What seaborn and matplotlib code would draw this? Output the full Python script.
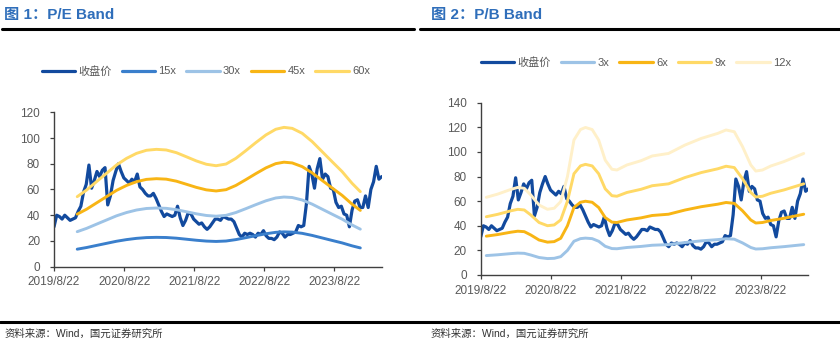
import numpy as np
import pandas as pd
import matplotlib
matplotlib.use("Agg")
import matplotlib.pyplot as plt
import seaborn as sns

# ---- data -------------------------------------------------------------
close_start = "2019-08-22"
# closing price, sampled every two weeks
close = [31, 40, 39, 37, 40, 38, 36, 37, 38, 43,
         47, 58, 64, 79, 61, 67, 74, 70, 75, 77,
         48, 55, 67, 74, 80, 74, 69, 67, 65, 68,
         66, 72, 62, 60, 57, 55, 55, 57, 53, 48,
         43, 39, 41, 40, 39, 40, 47, 38, 32, 36,
         42, 41, 37, 35, 33, 34, 31, 29, 31, 34,
         37, 37, 36, 39, 38, 37, 37, 35, 30, 25,
         23, 26, 25, 26, 25, 23, 26, 25, 28, 24,
         22, 22, 21, 23, 27, 26, 23, 25, 25, 26,
         27, 32, 31, 32, 49, 78, 72, 61, 76, 84,
         68, 72, 70, 61, 60, 50, 46, 47, 41, 40,
         31, 44, 51, 52, 46, 46, 55, 46, 60, 66,
         78, 68, 70]

# earnings per share used for the P/E band
eps_dates = ["2019-12-21", "2020-02-08", "2020-03-31", "2020-05-22", "2020-07-13",
             "2020-09-03", "2020-10-25", "2020-12-16", "2021-02-06", "2021-03-29",
             "2021-05-21", "2021-07-11", "2021-09-02", "2021-10-24", "2021-12-14",
             "2022-02-04", "2022-03-27", "2022-05-18", "2022-07-09", "2022-08-31",
             "2022-10-21", "2022-12-03", "2023-01-15", "2023-03-08", "2023-04-29",
             "2023-06-20", "2023-08-11", "2023-10-02", "2023-11-23", "2024-01-05"]
eps = [0.907, 0.993, 1.102, 1.210, 1.318, 1.403, 1.468, 1.508, 1.520, 1.512,
       1.477, 1.425, 1.370, 1.327, 1.308, 1.330, 1.403, 1.503, 1.607, 1.707,
       1.780, 1.805, 1.792, 1.728, 1.620, 1.490, 1.360, 1.232, 1.080, 0.972]

# book value per share used for the P/B band
bvps_dates = ["2019-09-20", "2019-11-19", "2020-01-27", "2020-03-02", "2020-04-05",
              "2020-05-09", "2020-06-21", "2020-08-04", "2020-09-08", "2020-10-12",
              "2020-11-16", "2020-12-20", "2021-01-23", "2021-02-18", "2021-03-25",
              "2021-04-28", "2021-06-01", "2021-07-06", "2021-08-01", "2021-09-22",
              "2021-12-05", "2022-02-01", "2022-04-27", "2022-07-22", "2022-10-15",
              "2023-01-09", "2023-02-21", "2023-04-05", "2023-05-18", "2023-06-30",
              "2023-07-26", "2023-08-30", "2023-10-12", "2023-12-20", "2024-04-01"]
bvps = [5.26, 5.48, 5.80, 5.93, 5.87, 5.42, 4.74, 4.45, 4.52, 4.97,
        6.66, 9.14, 9.85, 9.99, 9.85, 9.14, 7.78, 7.16, 7.11, 7.45,
        7.74, 8.06, 8.23, 8.80, 9.25, 9.59, 9.82, 9.70, 8.69, 7.45,
        7.04, 7.11, 7.38, 7.68, 8.23]

pe_multiples = [15, 30, 45, 60]
pb_multiples = [3, 6, 9, 12]
pe_colors = ["#3A7FCC", "#9DC3E6", "#F8B515", "#FFD966"]
pb_colors = ["#9DC3E6", "#F8B515", "#FFD966", "#FFF0C9"]
price_label = "收盘价"
price_color = "#124A9E"

tick_dates = ["2019-08-22", "2020-08-22", "2021-08-22", "2022-08-22", "2023-08-22"]
tick_labels = ["2019/8/22", "2020/8/22", "2021/8/22", "2022/8/22", "2023/8/22"]

titles = ["图 1：P/E Band", "图 2：P/B Band"]
source_note = "资料来源：Wind，国元证券研究所"

# ---- style ------------------------------------------------------------
sns.set_style("ticks")
FAMILY = ["Liberation Sans", "Noto Sans CJK SC", "DejaVu Sans"]
plt.rcParams["font.family"] = FAMILY
plt.rcParams["axes.unicode_minus"] = False

GRAY = "#595959"
AXIS = "#404040"

price_df = pd.DataFrame({
    "date": pd.date_range(close_start, periods=len(close), freq="14D"),
    "close": close,
})
eps_df = pd.DataFrame({"date": pd.to_datetime(eps_dates), "base": eps})
bvps_df = pd.DataFrame({"date": pd.to_datetime(bvps_dates), "base": bvps})

fig = plt.figure(figsize=(8.4, 3.45), dpi=100)
ax_pe = fig.add_axes([0.0643, 0.2270, 0.390, 0.4475])
ax_pb = fig.add_axes([0.5723, 0.2029, 0.390, 0.4994])


def draw_band(ax, base_df, multiples, colors, ymax, legend_xy):
    sns.lineplot(data=price_df, x="date", y="close", ax=ax, color=price_color,
                 lw=2.3, label=price_label)
    for m, c in zip(multiples, colors):
        band = base_df.assign(val=base_df["base"] * m)
        sns.lineplot(data=band, x="date", y="val", ax=ax, color=c, lw=2.1,
                     label=f"{m}x")
    ax.set_xlim(pd.Timestamp(close_start), price_df["date"].iloc[-1])
    ax.set_ylim(0, ymax)
    ax.set_yticks(np.arange(0, ymax + 1, 20))
    ax.set_xticks(pd.to_datetime(tick_dates))
    ax.set_xticklabels(tick_labels)
    ax.set_xlabel("")
    ax.set_ylabel("")
    sns.despine(ax=ax)
    for s in ("left", "bottom"):
        ax.spines[s].set_color(AXIS)
        ax.spines[s].set_linewidth(1.0)
    ax.tick_params(axis="both", colors=AXIS, labelcolor=GRAY, labelsize=8.5,
                   length=3, width=0.9, direction="out")
    ax.tick_params(axis="y", pad=7)
    ax.tick_params(axis="x", pad=4)
    leg = ax.legend(loc="center", bbox_to_anchor=legend_xy,
                    bbox_transform=fig.transFigure, ncol=5, frameon=False,
                    fontsize=8, handlelength=3.0, handletextpad=0.3,
                    columnspacing=0.9, labelcolor=GRAY)
    for h in leg.get_lines():
        h.set_linewidth(2.3)
    for t in leg.get_texts():
        t.set_family(FAMILY)


draw_band(ax_pe, eps_df, pe_multiples, pe_colors, 120, (0.245, 0.794))
draw_band(ax_pb, bvps_df, pb_multiples, pb_colors, 140, (0.757, 0.820))

# titles, rules and source notes
for x0, x1, tx, title in [(0.002, 0.493, 0.005, titles[0]),
                          (0.500, 1.000, 0.513, titles[1])]:
    fig.text(tx, 1 - 15 / 345, title, color="#2F6EBA", fontsize=11,
             fontweight="bold", va="center", ha="left")
    fig.add_artist(plt.Line2D([x0, x1], [1 - 29 / 345] * 2, color="black",
                              lw=2.2, transform=fig.transFigure))

fig.add_artist(plt.Line2D([0.0, 1.0], [1 - 322 / 345] * 2, color="black",
                          lw=2.2, transform=fig.transFigure))
for tx in (0.005, 0.512):
    fig.text(tx, 1 - 334 / 345, source_note, color="#333333", fontsize=7.5,
             va="center", ha="left", family=FAMILY)

fig.savefig("out.png", dpi=100)
